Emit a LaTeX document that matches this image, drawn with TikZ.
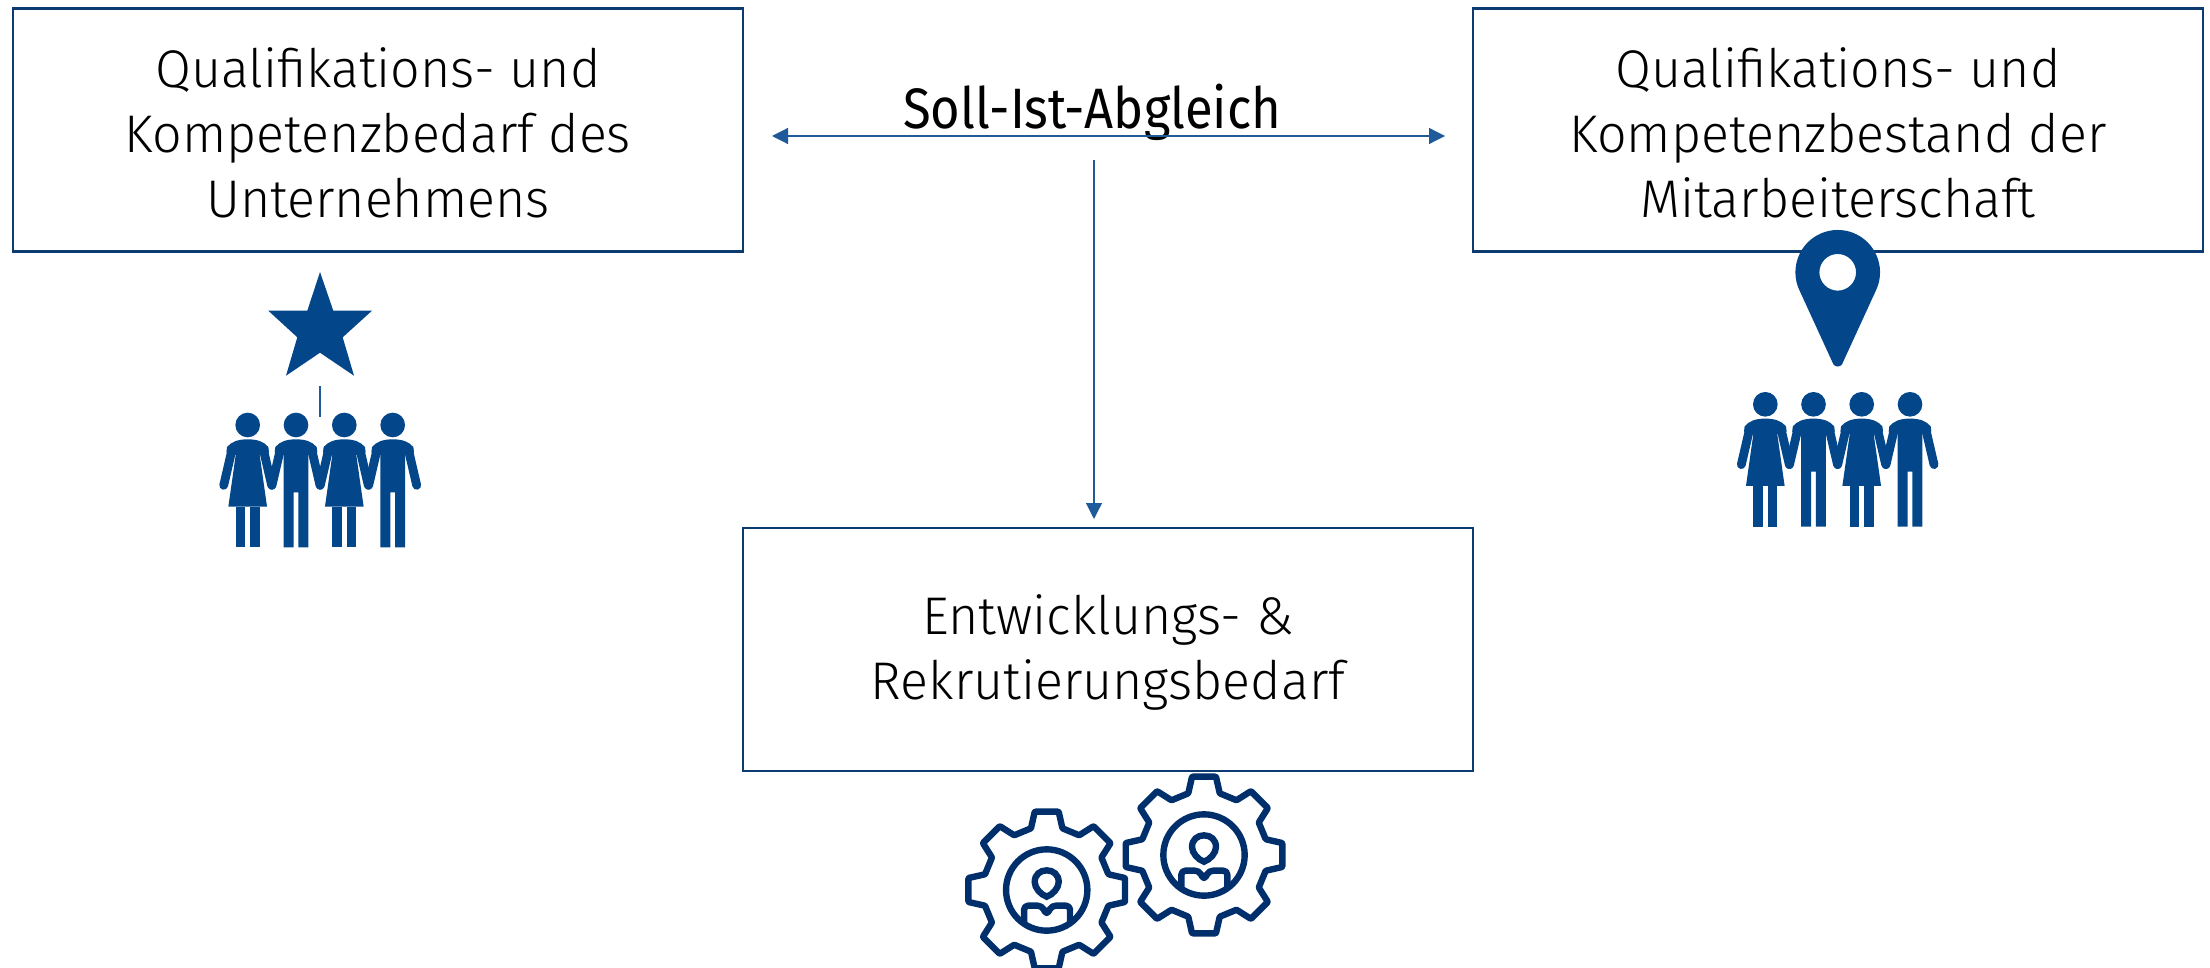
\documentclass[tikz,border=0pt]{standalone}
\usepackage{fontspec}
\setmainfont{Fira Sans}[UprightFont=* Light,FakeStretch=0.98]
\newfontfamily\titlefont{Fira Sans}[FakeStretch=0.89]
\usetikzlibrary{arrows.meta}
\definecolor{iconblue}{HTML}{03468A}
\definecolor{gearblue}{HTML}{002F6C}
\definecolor{boxblue}{HTML}{0B3B70}
\definecolor{arrowblue}{HTML}{1F5A9A}
\tikzset{
  box/.style={draw=boxblue,line width=1.1pt,minimum width=365pt,minimum height=121.5pt},
  boxtext/.style={align=center,inner sep=0pt,font=\fontsize{26.5}{32.5}\selectfont},
  flow/.style={arrowblue,line width=.6pt},
  woman/.pic={
    \fill[iconblue] (0,0) circle[radius=37];
    \fill[iconblue] (-64,82) -- (-62,66) .. controls (-48,50) and (-30,43) .. (0,43) .. controls (30,43) and (48,50) .. (62,66) -- (64,82) -- (36,90) -- (58,245) -- (-58,245) -- (-36,90) -- cycle;
    \draw[iconblue,line width=4.4pt,line cap=round] (-49,82) -- (-72,181);
    \draw[iconblue,line width=4.4pt,line cap=round] (49,82) -- (72,181);
    \fill[iconblue] (-36,245) rectangle (-7,367);
    \fill[iconblue] (7,245) rectangle (36,367);
  },
  man/.pic={
    \fill[iconblue] (0,0) circle[radius=37];
    \fill[iconblue] (-64,82) -- (-62,66) .. controls (-48,50) and (-30,43) .. (0,43) .. controls (30,43) and (48,50) .. (62,66) -- (64,82) -- (37,90) -- (37,367) -- (7,367) -- (7,202) -- (-7,202) -- (-7,367) -- (-37,367) -- (-37,90) -- cycle;
    \draw[iconblue,line width=4.4pt,line cap=round] (-49,82) -- (-72,181);
    \draw[iconblue,line width=4.4pt,line cap=round] (49,82) -- (72,181);
  },
  gear/.pic={
    \draw[gearblue,line width=3.2pt,line join=round,rounded corners=.4pt] (-14.3:191)
      \foreach \a in {0,45,...,315}{ -- (\a-14.3:191) -- (\a-8.7:237.7) -- (\a+8.7:237.7) -- (\a+14.3:191)} -- cycle;
    \draw[gearblue,line width=3.2pt] (0,0) circle[radius=122];
    \draw[gearblue,line width=3.2pt] (0,20) .. controls (-18,14) and (-36,-6) .. (-36,-24) .. controls (-36,-46) and (-20,-59) .. (0,-59) .. controls (20,-59) and (36,-46) .. (36,-24) .. controls (36,-6) and (18,14) .. (0,20) -- cycle;
    \draw[gearblue,line width=3.2pt,line join=round,rounded corners=2pt] (-68,99) -- (-68,47) -- (-15,47) -- (0,75) -- (15,47) -- (70,47) -- (70,97);
  },
}
\begin{document}
\begin{tikzpicture}[x=.5pt,y=-.5pt]
\useasboundingbox (0,0) rectangle (2210,968);

\node[box] (bedarf) at (378,130) {};
\node[box] (bestand) at (1838,130) {};
\node[box] (entwicklung) at (1108,649.5) {};

\node[boxtext] (bedarftext) at ([yshift=-1.6pt]bedarf.center) {Qualifikations- und\\Kompetenzbedarf des\\Unternehmens};
\node[boxtext] (bestandtext) at ([yshift=-1.6pt]bestand.center) {Qualifikations- und\\Kompetenzbestand der\\Mitarbeiterschaft};
\node[boxtext] (entwicklungtext) at ([yshift=-1.5pt]entwicklung.center) {Entwicklungs- \&\\Rekrutierungsbedarf};

\node[font=\titlefont\fontsize{28.5}{30}\selectfont,inner sep=0pt] (abgleich) at (1092,112) {Soll-Ist-Abgleich};

\coordinate (links) at (772,136);
\coordinate (rechts) at (1445,136);
\coordinate (start) at (1094,160);
\coordinate (ziel) at (1094,519);
\draw[flow,{Triangle[length=8pt,width=8pt]}-{Triangle[length=8pt,width=8pt]}] (links) -- (rechts);
\draw[flow,-{Triangle[length=8pt,width=8pt]}] (start) -- (ziel);

\fill[iconblue] (320,272) -- (333.3,310.7) -- (372,310.7) -- (342.7,337.3) -- (354,375.7) -- (320,352.7) -- (286,375.7) -- (297.3,337.3) -- (268.3,310.7) -- (307.3,310.7) -- cycle;
\coordinate (strichoben) at (320,386);
\coordinate (strichunten) at (320,417);
\draw[flow] (strichoben) -- (strichunten);

\pic[scale=.3333] at (247.7,425) {woman};
\pic[scale=.3333] at (296,425) {man};
\pic[scale=.3333] at (344.3,425) {woman};
\pic[scale=.3333] at (392.7,425) {man};

\begin{scope}[shift={(1837.7,272.3)},scale=.3333]
\fill[iconblue,even odd rule] (27:127) arc[start angle=27,end angle=-207,radius=127] -- (-13,276) .. controls (-7,285) and (7,285) .. (13,276) -- cycle (0,0) circle[radius=55];
\end{scope}

\pic[scale=.3333] at (1765.3,404.3) {woman};
\pic[scale=.3333] at (1813.5,404.3) {man};
\pic[scale=.3333] at (1861.7,404.3) {woman};
\pic[scale=.3333] at (1910,404.3) {man};

\pic[scale=.3333] at (1046.7,890) {gear};
\pic[scale=.3333] at (1204,855) {gear};

\end{tikzpicture}
\end{document}
